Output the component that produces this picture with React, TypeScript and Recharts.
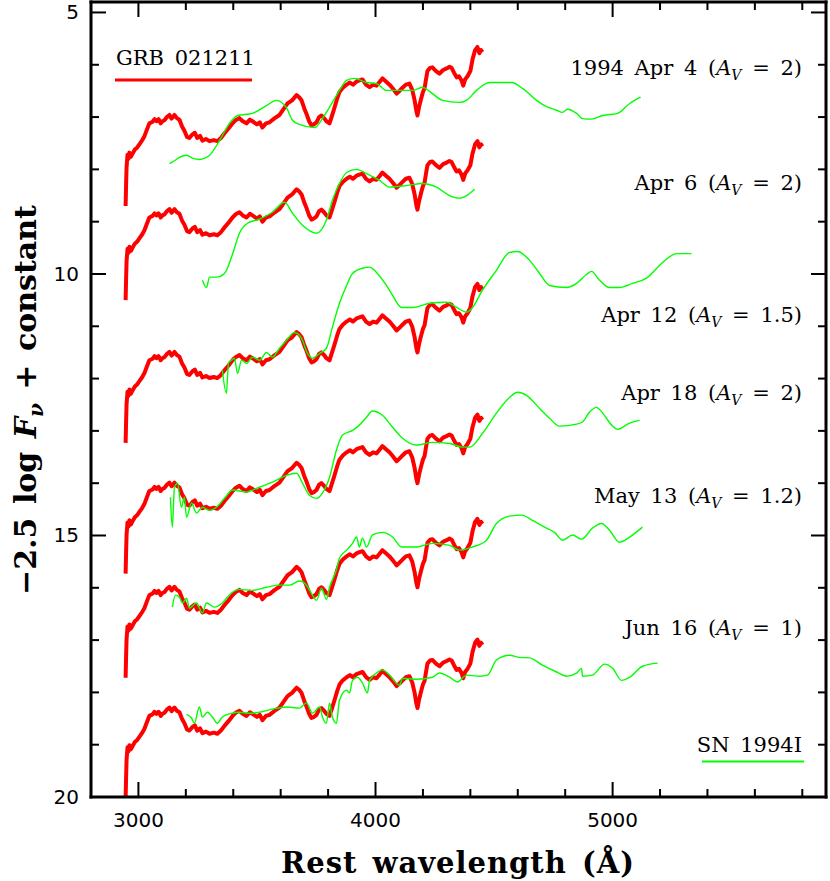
import { Customized, Line, LineChart, XAxis, YAxis } from "recharts";

// axis ticks
const wavelengthTicks = [3000, 3200, 3400, 3600, 3800, 4000, 4200, 4400, 4600, 4800, 5000, 5200, 5400, 5600, 5800];
const wavelengthLabels = [3000, 4000, 5000];
const magTicks = [5, 6, 7, 8, 9, 10, 11, 12, 13, 14, 15, 16, 17, 18, 19, 20];
const magLabels = [5, 10, 15, 20];

// panel annotations
const epochs = ["1994 Apr 4", "Apr 6", "Apr 12", "Apr 18", "May 13", "Jun 16"];
const extinction = ["2", "2", "1.5", "2", "1.2", "1"];

// GRB 021211 spectrum (as drawn in the top panel), [wavelength, mag]
const grbSpectrum = [
  [2946, 8.7], [2948, 8.3], [2950, 7.96], [2954, 7.72], [2958, 7.8], [2962, 7.68], [2968, 7.76],
  [2975, 7.7], [2985, 7.62], [2995, 7.58], [3004, 7.52], [3015, 7.45], [3025, 7.37], [3035, 7.25],
  [3046, 7.12], [3060, 7.09], [3068, 7.04], [3076, 7.08], [3085, 7.04], [3094, 7.12], [3101, 7.08],
  [3110, 7.06], [3120, 7.0], [3131, 6.96], [3140, 7.03], [3152, 6.96], [3162, 7.02], [3173, 7.05],
  [3184, 7.18], [3194, 7.26], [3205, 7.38], [3215, 7.4], [3228, 7.33], [3238, 7.3], [3248, 7.4],
  [3260, 7.36], [3270, 7.45], [3285, 7.42], [3300, 7.46], [3318, 7.44], [3333, 7.46], [3348, 7.4],
  [3363, 7.31], [3380, 7.22], [3397, 7.12], [3410, 7.06], [3426, 7.02], [3440, 7.08], [3456, 7.12],
  [3470, 7.05], [3481, 7.08], [3500, 7.14], [3512, 7.1], [3523, 7.2], [3538, 7.12], [3553, 7.1],
  [3575, 7.02], [3595, 6.96], [3612, 6.85], [3629, 6.74], [3648, 6.68], [3667, 6.58], [3678, 6.62],
  [3688, 6.68], [3700, 6.84], [3709, 6.94], [3720, 7.08], [3730, 7.16], [3740, 7.14], [3751, 7.1],
  [3762, 7.0], [3772, 6.97], [3783, 7.02], [3793, 7.08], [3806, 7.12], [3816, 6.98], [3827, 6.82],
  [3838, 6.65], [3848, 6.52], [3862, 6.44], [3878, 6.38], [3892, 6.34], [3905, 6.38], [3920, 6.32],
  [3932, 6.3], [3945, 6.28], [3960, 6.38], [3975, 6.43], [3990, 6.38], [4004, 6.4], [4017, 6.33],
  [4029, 6.26], [4044, 6.32], [4059, 6.38], [4074, 6.46], [4089, 6.55], [4101, 6.5], [4114, 6.44],
  [4128, 6.38], [4143, 6.36], [4155, 6.48], [4165, 6.68], [4172, 6.88], [4177, 6.97], [4184, 6.8],
  [4194, 6.62], [4200, 6.52], [4207, 6.45], [4213, 6.28], [4219, 6.12], [4230, 6.06], [4240, 6.05],
  [4255, 6.12], [4270, 6.17], [4285, 6.1], [4300, 6.07], [4312, 6.04], [4321, 6.06], [4332, 6.16],
  [4342, 6.24], [4352, 6.22], [4363, 6.3], [4370, 6.4], [4378, 6.28], [4388, 6.22], [4400, 6.12],
  [4409, 5.9], [4420, 5.72], [4430, 5.66], [4438, 5.78], [4445, 5.72], [4451, 5.76],
];
// vertical shift of the GRB spectrum in each panel
const grbOffsets = [0, 1.8, 4.53, 7.03, 9.02, 11.33];

// SN 1994I spectra, one per epoch
const snApr4 = [
  [3131, 7.89], [3150, 7.84], [3173, 7.77], [3203, 7.73], [3230, 7.79], [3257, 7.81], [3300, 7.73],
  [3342, 7.45], [3384, 7.12], [3418, 6.97], [3481, 6.93], [3540, 6.78], [3582, 6.68], [3624, 6.82],
  [3650, 7.06], [3679, 7.14], [3743, 7.2], [3776, 7.03], [3818, 6.72], [3848, 6.49], [3878, 6.3],
  [3911, 6.26], [3962, 6.34], [4004, 6.36], [4046, 6.49], [4089, 6.49], [4156, 6.49], [4198, 6.43],
  [4228, 6.51], [4283, 6.68], [4354, 6.72], [4384, 6.68], [4426, 6.49], [4481, 6.34], [4536, 6.34],
  [4574, 6.34], [4620, 6.45], [4679, 6.68], [4713, 6.78], [4764, 6.87], [4789, 6.91], [4810, 6.85],
  [4848, 6.93], [4873, 7.03], [4911, 7.04], [4958, 6.97], [5021, 6.93], [5072, 6.74], [5118, 6.62],
];
const snApr6 = [
  [3270, 10.12], [3287, 10.26], [3300, 10.06], [3329, 10.06], [3363, 9.99], [3397, 9.62],
  [3426, 9.22], [3460, 9.03], [3511, 8.95], [3565, 8.82], [3616, 8.63], [3650, 8.84], [3692, 9.07],
  [3751, 9.22], [3793, 8.97], [3818, 8.59], [3848, 8.27], [3878, 8.06], [3920, 8.0], [3962, 8.08],
  [4017, 8.21], [4059, 8.34], [4131, 8.31], [4198, 8.27], [4257, 8.34], [4312, 8.5], [4354, 8.55],
  [4384, 8.5], [4418, 8.38],
];
const snApr12 = [
  [3354, 11.84], [3371, 12.28], [3380, 11.7], [3392, 11.65], [3405, 11.61], [3418, 11.9],
  [3435, 11.65], [3456, 11.71], [3481, 11.59], [3511, 11.65], [3540, 11.5], [3565, 11.59],
  [3595, 11.42], [3624, 11.27], [3658, 11.12], [3688, 11.23], [3713, 11.52], [3734, 11.61],
  [3764, 11.52], [3793, 11.42], [3818, 11.02], [3848, 10.56], [3878, 10.22], [3903, 9.99],
  [3945, 9.89], [3975, 9.87], [4004, 9.97], [4046, 10.22], [4072, 10.41], [4110, 10.64],
  [4156, 10.64], [4228, 10.56], [4300, 10.54], [4342, 10.64], [4384, 10.73], [4409, 10.64],
  [4451, 10.31], [4510, 9.93], [4565, 9.59], [4599, 9.57], [4650, 9.74], [4692, 9.99],
  [4734, 10.22], [4806, 10.26], [4848, 10.18], [4890, 10.01], [4911, 9.95], [4945, 10.12],
  [4987, 10.26], [5029, 10.26], [5084, 10.18], [5143, 10.08], [5211, 9.78], [5270, 9.61], [5333, 9.61],
];
const snApr18 = [
  [3135, 14.27], [3143, 14.84], [3152, 14.08], [3165, 14.0], [3181, 14.46], [3194, 14.27],
  [3203, 14.65], [3224, 14.38], [3245, 14.57], [3270, 14.46], [3300, 14.52], [3329, 14.46],
  [3363, 14.29], [3397, 14.13], [3456, 14.17], [3498, 14.1], [3565, 13.98], [3624, 13.85],
  [3667, 13.81], [3692, 14.0], [3721, 14.23], [3751, 14.29], [3776, 14.19], [3806, 13.89],
  [3835, 13.37], [3861, 13.08], [3903, 12.99], [3932, 12.89], [3962, 12.74], [3987, 12.62],
  [4029, 12.7], [4072, 12.93], [4114, 13.14], [4173, 13.27], [4240, 13.22], [4312, 13.24],
  [4367, 13.31], [4397, 13.31], [4451, 13.05], [4510, 12.66], [4565, 12.36], [4599, 12.26],
  [4637, 12.32], [4692, 12.57], [4734, 12.76], [4776, 12.91], [4848, 12.87], [4873, 12.83],
  [4903, 12.64], [4932, 12.55], [4958, 12.66], [4996, 12.89], [5021, 12.97], [5072, 12.85], [5114, 12.8],
];
const snMay13 = [
  [3143, 16.37], [3156, 16.14], [3173, 16.18], [3186, 16.29], [3203, 16.2], [3215, 16.39],
  [3245, 16.29], [3270, 16.48], [3287, 16.29], [3321, 16.37], [3354, 16.29], [3392, 16.1],
  [3426, 16.03], [3481, 16.05], [3540, 15.99], [3595, 15.95], [3637, 15.95], [3679, 15.87],
  [3709, 15.95], [3734, 16.14], [3751, 16.24], [3772, 16.01], [3793, 16.22], [3806, 15.99],
  [3835, 15.66], [3848, 15.43], [3878, 15.28], [3903, 15.15], [3920, 15.03], [3932, 15.22],
  [3945, 15.05], [3962, 15.22], [3987, 14.99], [4029, 14.94], [4072, 15.03], [4110, 15.22],
  [4173, 15.22], [4240, 15.15], [4312, 15.19], [4354, 15.28], [4409, 15.22], [4468, 15.09],
  [4510, 14.77], [4565, 14.63], [4616, 14.61], [4662, 14.71], [4713, 14.84], [4755, 14.94],
  [4789, 15.09], [4831, 14.99], [4869, 15.07], [4915, 14.86], [4953, 14.77], [4987, 14.9],
  [5029, 15.13], [5072, 15.03], [5126, 14.84],
];
const snJun16 = [
  [3203, 18.42], [3224, 18.49], [3236, 18.59], [3257, 18.28], [3270, 18.47], [3291, 18.38],
  [3312, 18.47], [3333, 18.59], [3354, 18.47], [3392, 18.4], [3426, 18.38], [3468, 18.4],
  [3511, 18.38], [3565, 18.32], [3624, 18.28], [3679, 18.3], [3709, 18.2], [3734, 18.4],
  [3764, 18.28], [3776, 18.47], [3793, 18.59], [3806, 18.2], [3818, 18.47], [3835, 18.59],
  [3848, 18.15], [3878, 17.96], [3890, 18.01], [3903, 17.77], [3924, 17.71], [3945, 17.82],
  [3966, 18.01], [3975, 17.77], [4004, 17.63], [4029, 17.57], [4059, 17.67], [4101, 17.86],
  [4114, 17.73], [4173, 17.75], [4240, 17.71], [4270, 17.63], [4312, 17.71], [4346, 17.8],
  [4384, 17.67], [4439, 17.69], [4472, 17.67], [4510, 17.38], [4565, 17.29], [4607, 17.33],
  [4650, 17.34], [4704, 17.48], [4764, 17.61], [4806, 17.69], [4848, 17.63], [4869, 17.54],
  [4873, 17.69], [4915, 17.67], [4966, 17.46], [5000, 17.54], [5038, 17.77], [5072, 17.71],
  [5126, 17.5], [5190, 17.44],
];
const snSpectra = [snApr4, snApr6, snApr12, snApr18, snMay13, snJun16];

const RED = "#ff0000";
const GREEN = "#00ff00";
const labelBaselines = [75, 190, 322, 400, 503, 635];

function toPoints(pairs: number[][], shift = 0) {
  return pairs.map(([w, m]) => ({ w, m: m + shift }));
}

function WaveTick({ x, y, payload, side }: any) {
  const major = wavelengthLabels.includes(payload.value);
  const len = major ? 15 : 8;
  const dir = side === "top" ? 1 : -1;
  return (
    <g>
      <line x1={x} y1={y} x2={x} y2={y + dir * len} stroke="#000" strokeWidth={2} />
      {side === "bottom" && major && (
        <text x={x} y={y + 30} textAnchor="middle" fontFamily="DejaVu Sans" fontSize={20} fill="#000">
          {payload.value}
        </text>
      )}
    </g>
  );
}

function MagTick({ x, y, payload, side }: any) {
  const major = magLabels.includes(payload.value);
  const len = major ? 15 : 8;
  const dir = side === "left" ? 1 : -1;
  return (
    <g>
      <line x1={x} y1={y} x2={x + dir * len} y2={y} stroke="#000" strokeWidth={2} />
      {side === "left" && major && (
        <text x={x - 12} y={y + 7} textAnchor="end" fontFamily="DejaVu Sans" fontSize={20} fill="#000">
          {payload.value}
        </text>
      )}
    </g>
  );
}

function Annotations() {
  const font = { fontFamily: "DejaVu Serif", fontSize: 21, fill: "#000" };
  return (
    <g>
      <text x={116} y={65} {...font} wordSpacing={4}>GRB 021211</text>
      <line x1={115} y1={80} x2={252} y2={80} stroke={RED} strokeWidth={3} />
      <text x={802} y={752} textAnchor="end" {...font} wordSpacing={4}>SN 1994I</text>
      <line x1={702} y1={761.5} x2={804} y2={761.5} stroke={GREEN} strokeWidth={2} />
      {epochs.map((e, i) => (
        <text key={e} x={802} y={labelBaselines[i]} textAnchor="end" {...font} wordSpacing={4}>
          {e} (<tspan fontStyle="italic">A</tspan>
          <tspan fontStyle="italic" fontSize={14} dy={5}>V</tspan>
          <tspan dy={-5}> = {extinction[i]})</tspan>
        </text>
      ))}
      <text
        x={458}
        y={873}
        textAnchor="middle"
        fontFamily="DejaVu Serif"
        fontWeight="bold"
        fontSize={29}
        letterSpacing={1}
        wordSpacing={4}
        fill="#000"
      >
        Rest wavelength (Å)
      </text>
      <text
        transform="translate(36,400) rotate(-90)"
        textAnchor="middle"
        fontFamily="DejaVu Serif"
        fontWeight="bold"
        fontSize={30}
        fill="#000"
        wordSpacing={3}
      >
        −2.5 log <tspan fontStyle="italic">F</tspan>
        <tspan fontStyle="italic" fontSize={20} dy={7}>ν</tspan>
        <tspan dy={-7}> + constant</tspan>
      </text>
    </g>
  );
}

export default function App() {
  const grbSeries = grbOffsets.map((o) => toPoints(grbSpectrum, o));
  const snSeries = snSpectra.map((s) => toPoints(s));
  const frame = { stroke: "#000", strokeWidth: 3, strokeLinecap: "square" as const };

  return (
    <div style={{ position: "absolute", left: 0, top: 0, width: 830, height: 881, background: "#fff" }}>
      <LineChart width={830} height={881} margin={{ top: 0, right: 0, bottom: 44, left: 31 }}>
        <XAxis
          xAxisId="b"
          dataKey="w"
          type="number"
          domain={[2800, 5900]}
          ticks={wavelengthTicks}
          interval={0}
          tickSize={0}
          tickMargin={0}
          height={40}
          axisLine={frame}
          tickLine={false}
          tick={<WaveTick side="bottom" />}
          allowDataOverflow
        />
        <XAxis
          xAxisId="t"
          orientation="top"
          dataKey="w"
          type="number"
          domain={[2800, 5900]}
          ticks={wavelengthTicks}
          interval={0}
          tickSize={0}
          tickMargin={0}
          height={2}
          axisLine={frame}
          tickLine={false}
          tick={<WaveTick side="top" />}
          allowDataOverflow
        />
        <YAxis
          yAxisId="l"
          type="number"
          domain={[4.8, 20]}
          reversed
          ticks={magTicks}
          interval={0}
          tickSize={0}
          tickMargin={0}
          width={60}
          axisLine={frame}
          tickLine={false}
          tick={<MagTick side="left" />}
          allowDataOverflow
        />
        <YAxis
          yAxisId="r"
          orientation="right"
          type="number"
          domain={[4.8, 20]}
          reversed
          ticks={magTicks}
          interval={0}
          tickSize={0}
          tickMargin={0}
          width={4}
          axisLine={frame}
          tickLine={false}
          tick={<MagTick side="right" />}
          allowDataOverflow
        />
        {grbSeries.map((data, i) => (
          <Line
            key={"grb" + i}
            xAxisId="b"
            yAxisId="l"
            data={data}
            dataKey="m"
            type="linear"
            stroke={RED}
            strokeWidth={4}
            strokeLinejoin="round"
            dot={false}
            isAnimationActive={false}
          />
        ))}
        {snSeries.map((data, i) => (
          <Line
            key={"sn" + i}
            xAxisId="b"
            yAxisId="l"
            data={data}
            dataKey="m"
            type="monotone"
            stroke={GREEN}
            strokeWidth={1.4}
            dot={false}
            isAnimationActive={false}
          />
        ))}
        <Customized component={<Annotations />} />
      </LineChart>
    </div>
  );
}
